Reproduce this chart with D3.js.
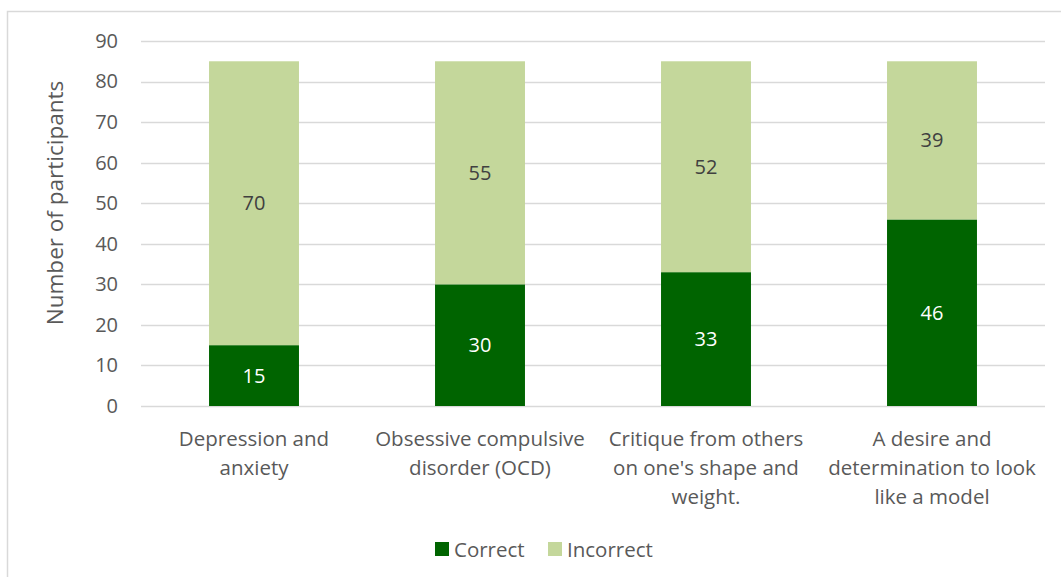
<!DOCTYPE html>
<html>
<head>
<meta charset="utf-8">
<script src="https://cdn.jsdelivr.net/npm/d3@7"></script>
<style>
  html, body { margin: 0; padding: 0; background: #fff; }
  svg { display: block; font-family: "Open Sans", "Liberation Sans", sans-serif; }
</style>
</head>
<body>
<svg id="chart" width="1061" height="577"></svg>
<script>
// Categories (multi-line labels) and stacked series
const categories = [
  ["Depression and", "anxiety"],
  ["Obsessive compulsive", "disorder (OCD)"],
  ["Critique from others", "on one's shape and", "weight."],
  ["A desire and", "determination to look", "like a model"]
];
const correct   = [15, 30, 33, 46];
const incorrect = [70, 55, 52, 39];
const seriesNames = ["Correct", "Incorrect"];
const yTicks = [0, 10, 20, 30, 40, 50, 60, 70, 80, 90];

const colors = { Correct: "#006400", Incorrect: "#c4d79b" };
const textColor = "#595959";

const svg = d3.select("#chart");
const W = 1061, H = 577;

// Outer frame (top and left edges visible)
svg.append("path")
  .attr("d", `M7.5,${H} V11.5 H${W}`)
  .attr("fill", "none")
  .attr("stroke", "#d9d9d9")
  .attr("stroke-width", 1.5);

const plot = { left: 141, right: 1045, top: 41, bottom: 406 };

const keys = categories.map((c, i) => i);
const x = d3.scaleBand()
  .domain(keys)
  .range([plot.left, plot.right])
  .paddingInner(0.602)
  .paddingOuter(0.301);

const y = d3.scaleLinear().domain([0, 90]).range([plot.bottom, plot.top]);

// Gridlines
svg.append("g")
  .selectAll("line")
  .data(yTicks)
  .join("line")
  .attr("x1", plot.left).attr("x2", plot.right)
  .attr("y1", d => Math.round(y(d)) + 0.5).attr("y2", d => Math.round(y(d)) + 0.5)
  .attr("stroke", "#d9d9d9")
  .attr("stroke-width", 1.5);

// Y axis tick labels
const yAxis = d3.axisLeft(y).tickValues(yTicks).tickSize(0).tickPadding(0);
const yg = svg.append("g").attr("transform", `translate(${plot.left - 23},0)`).call(yAxis);
yg.select(".domain").remove();
yg.selectAll("text")
  .attr("font-size", 20)
  .attr("fill", textColor)
  .attr("font-family", "'Open Sans', sans-serif");

// Y axis title
svg.append("text")
  .attr("transform", `translate(63,203) rotate(-90)`)
  .attr("text-anchor", "middle")
  .attr("font-size", 22.5)
  .attr("fill", textColor)
  .text("Number of participants");

// Stacked bars
const rows = keys.map(i => ({ key: i, Correct: correct[i], Incorrect: incorrect[i] }));
const stacked = d3.stack().keys(seriesNames)(rows);

const layers = svg.append("g")
  .selectAll("g")
  .data(stacked)
  .join("g")
  .attr("fill", d => colors[d.key]);

layers.selectAll("rect")
  .data(d => d)
  .join("rect")
  .attr("x", d => x(d.data.key))
  .attr("width", x.bandwidth())
  .attr("y", d => y(d[1]))
  .attr("height", d => y(d[0]) - y(d[1]));

// Value labels
layers.each(function(layer) {
  d3.select(this).selectAll("text")
    .data(layer)
    .join("text")
    .attr("x", d => x(d.data.key) + x.bandwidth() / 2)
    .attr("y", d => (y(d[0]) + y(d[1])) / 2)
    .attr("dy", "0.35em")
    .attr("text-anchor", "middle")
    .attr("font-size", 20)
    .attr("fill", layer.key === "Correct" ? "#ffffff" : "#404040")
    .text(d => d[1] - d[0]);
});

// Category labels
const catG = svg.append("g");
categories.forEach((lines, i) => {
  const t = catG.append("text")
    .attr("text-anchor", "middle")
    .attr("font-size", 20.5)
    .attr("fill", textColor);
  lines.forEach((ln, j) => {
    t.append("tspan")
      .attr("x", x(i) + x.bandwidth() / 2)
      .attr("y", 446 + j * 29)
      .text(ln);
  });
});

// Legend
const legend = svg.append("g");
const legendItems = [
  { name: "Correct", sx: 435, tx: 454 },
  { name: "Incorrect", sx: 548, tx: 567 }
];
legendItems.forEach(it => {
  legend.append("rect")
    .attr("x", it.sx).attr("y", 542)
    .attr("width", 14).attr("height", 14)
    .attr("fill", colors[it.name]);
  legend.append("text")
    .attr("x", it.tx).attr("y", 556.5)
    .attr("font-size", 20.5)
    .attr("fill", textColor)
    .text(it.name);
});
</script>
</body>
</html>
